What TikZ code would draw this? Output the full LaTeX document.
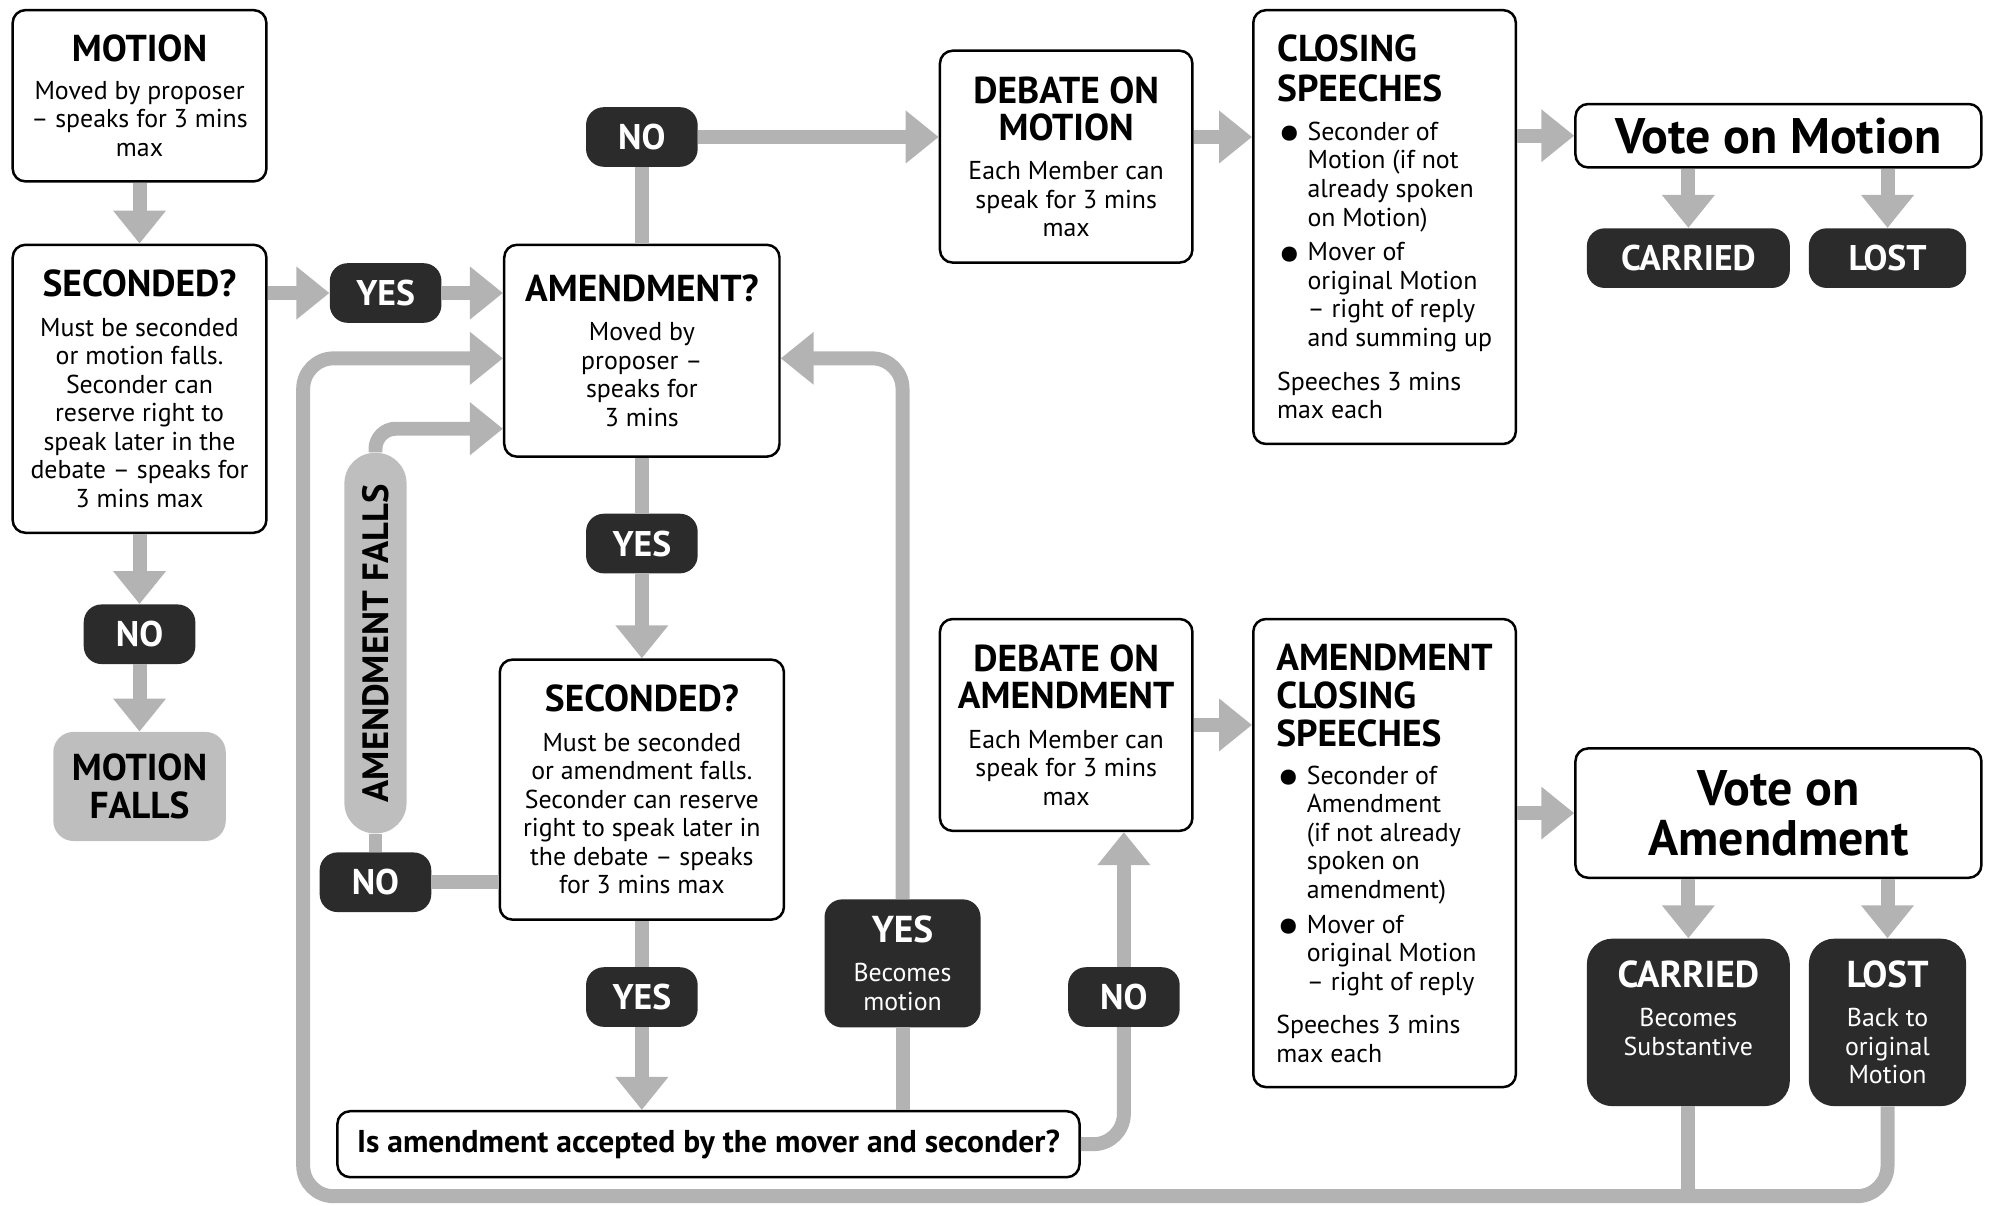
\documentclass[tikz,border=0pt]{standalone}
\usepackage{fontspec}
\setmainfont{PT Sans}
\usetikzlibrary{arrows.meta}
\definecolor{flowgray}{HTML}{B3B3B3}
\definecolor{pilldark}{HTML}{2B2B2B}
\definecolor{fallsgray}{HTML}{BEBEBE}
\newcommand{\ttl}{\fontsize{21}{22}\selectfont\bfseries}
\newcommand{\blt}{\makebox[6mm][l]{\smash{\raisebox{-0.4em}{\scalebox{2.1}{\textbullet}}}}}
\newcommand{\ind}{\hspace*{6mm}}
\tikzset{
  stagebox/.style={draw=black, line width=1.4pt, rounded corners=2.5mm, fill=white, align=center, inner sep=0pt, font=\fontsize{14.5}{16}\selectfont},
  tagpill/.style={fill=pilldark, text=white, rounded corners=3.5mm, align=center, inner sep=0pt, minimum width=22mm, minimum height=11.75mm, font=\fontsize{20}{22}\selectfont\bfseries},
  flowline/.style={draw=flowgray, line width=2.75mm},
  flowtip/.style={flowline, -{Triangle[width=10mm,length=6.5mm]}}
}

\begin{document}
\begin{tikzpicture}[x=0.25mm,y=-0.25mm]
  \useasboundingbox (0,0) rectangle (1568,950);

  \node[stagebox, minimum width=50mm, minimum height=33.75mm] (motion) at (110,75.5) {{\ttl MOTION}\\[5pt]Moved by proposer\\– speaks for 3 mins\\max};
  \node[stagebox, minimum width=50mm, minimum height=56.75mm] (sec1) at (110,306.5) {{\ttl SECONDED?}\\[6pt]Must be seconded\\or motion falls.\\Seconder can\\reserve right to\\speak later in the\\debate – speaks for\\3 mins max};
  \node[tagpill] (no1) at (110,500) {NO};
  \node[fill=fallsgray, rounded corners=4mm, align=center, inner sep=0pt, minimum width=34mm, minimum height=21.5mm, font=\ttl] (mfalls) at (110,620) {MOTION\\[-1pt]FALLS};

  \node[tagpill] (yes1) at (304,231) {YES};
  \node[stagebox, minimum width=54.25mm, minimum height=41.75mm] (amend) at (506,276.5) {{\ttl AMENDMENT?}\\[6pt]Moved by\\proposer –\\speaks for\\3 mins};
  \node[tagpill] (no2) at (506,108) {NO};
  \node[stagebox, minimum width=49.75mm, minimum height=41.75mm] (debm) at (840.5,123.5) {{\ttl DEBATE ON}\\[5pt]{\ttl MOTION}\\[6pt]Each Member can\\speak for 3 mins\\max};
  \node[stagebox, align=left, minimum width=51.75mm, minimum height=85.5mm] (closm) at (1091.5,179) {{\ttl CLOSING}\\[6pt]{\ttl SPEECHES}\\[6pt]\blt Seconder of\\\ind Motion (if not\\\ind already spoken\\\ind on Motion)\\[3.5pt]\blt Mover of\\\ind original Motion\\\ind – right of reply\\\ind and summing up\\[8.5pt]Speeches 3 mins\\max each};
  \node[stagebox, minimum width=80mm, minimum height=12.5mm, font=\fontsize{28}{28}\selectfont\bfseries] (votem) at (1402,107) {Vote on Motion};
  \node[tagpill, minimum width=40mm] (carm) at (1331,203.5) {CARRIED};
  \node[tagpill, minimum width=31mm] (lostm) at (1488,203.5) {LOST};

  \node[fill=fallsgray, rotate=90, rounded corners=6mm, inner sep=0pt, minimum width=75mm, minimum height=12.25mm, font=\fontsize{20.5}{22}\selectfont\bfseries] (afalls) at (296,507) {AMENDMENT FALLS};
  \node[tagpill] (yes2) at (506,428.5) {YES};
  \node[stagebox, minimum width=56mm, minimum height=51.25mm] (sec2) at (506,622.5) {{\ttl SECONDED?}\\[6pt]Must be seconded\\or amendment falls.\\Seconder can reserve\\right to speak later in\\the debate – speaks\\for 3 mins max};
  \node[tagpill] (no3) at (296,695.5) {NO};
  \node[tagpill] (yes3) at (506,786) {YES};
  \node[tagpill, minimum width=30.75mm, minimum height=25.25mm, font=\fontsize{14.5}{16}\selectfont] (yesmot) at (711.5,759.5) {{\ttl YES}\\[6pt]Becomes\\motion};
  \node[tagpill] (no4) at (886,786) {NO};
  \node[stagebox, minimum width=146.25mm, minimum height=13mm, font=\fontsize{17.7}{19}\selectfont\bfseries] (accept) at (558.5,902) {Is amendment accepted by the mover and seconder?};

  \node[stagebox, minimum width=49.75mm, minimum height=41.75mm] (deba) at (840.5,571.5) {{\ttl DEBATE ON}\\[5pt]{\ttl AMENDMENT}\\[6pt]Each Member can\\speak for 3 mins\\max};
  \node[stagebox, align=left, minimum width=51.75mm, minimum height=92.25mm] (closa) at (1091.5,672.5) {{\ttl AMENDMENT}\\[5.5pt]{\ttl CLOSING}\\[5.5pt]{\ttl SPEECHES}\\[5pt]\blt Seconder of\\\ind Amendment\\\ind (if not already\\\ind spoken on\\\ind amendment)\\[3.5pt]\blt Mover of\\\ind original Motion\\\ind – right of reply\\[8.5pt]Speeches 3 mins\\max each};
  \node[stagebox, minimum width=80mm, minimum height=25.5mm, font=\fontsize{28}{28}\selectfont\bfseries] (votea) at (1402,641) {Vote on\\Amendment};
  \node[tagpill, minimum width=40mm, minimum height=33mm, rounded corners=5mm, font=\fontsize{14.5}{16}\selectfont] (cara) at (1331,806) {{\ttl CARRIED}\\[6pt]Becomes\\Substantive\\\phantom{Motion}};
  \node[tagpill, minimum width=31mm, minimum height=33mm, rounded corners=5mm, font=\fontsize{14.5}{16}\selectfont] (losta) at (1488,806) {{\ttl LOST}\\[6pt]Back to\\original\\Motion};

  \draw[flowtip] (motion) -- (sec1);
  \draw[flowtip] (sec1) -- (no1);
  \draw[flowtip] (no1) -- (mfalls);
  \draw[flowtip] (sec1.east |- yes1) -- (yes1);
  \draw[flowtip] (yes1) -- (yes1 -| amend.west);
  \draw[flowline] (amend) -- (no2);
  \draw[flowtip] (no2) -- (no2 -| debm.west);
  \draw[flowtip] (debm.east |- no2) -- (closm.west |- no2);
  \draw[flowtip] (closm.east |- votem) -- (votem);
  \draw[flowtip] (votem.south -| carm) -- (carm);
  \draw[flowtip] (votem.south -| lostm) -- (lostm);

  \draw[flowline] (amend) -- (yes2);
  \draw[flowtip] (yes2) -- (sec2);
  \draw[flowline] (sec2.west |- no3) -- (no3);
  \draw[flowline] (no3) -- (afalls);
  \draw[flowtip, rounded corners=4mm] (afalls.east) |- ([yshift=5.75mm]amend.south west);
  \draw[flowline] (sec2) -- (yes3);
  \draw[flowtip] (yes3) -- (yes3 |- accept.north);
  \draw[flowline] (accept.north -| yesmot) -- (yesmot);
  \draw[flowtip, rounded corners=6mm] (yesmot.north) |- ([yshift=-1.5mm]amend.east);
  \draw[flowline, rounded corners=6mm] (accept.east) -| (no4);
  \draw[flowtip] (no4) -- (no4 |- deba.south);

  \draw[flowtip] (deba.east) -- (deba.east -| closa.west);
  \draw[flowtip] (closa.east |- votea) -- (votea);
  \draw[flowtip] (votea.south -| cara) -- (cara);
  \draw[flowtip] (votea.south -| losta) -- (losta);
  \draw[flowline] (cara.south) -- ++(0,73);
  \draw[flowtip, rounded corners=6mm] (losta.south) |- (239,943) |- ([yshift=-1.5mm]amend.west);
\end{tikzpicture}
\end{document}
